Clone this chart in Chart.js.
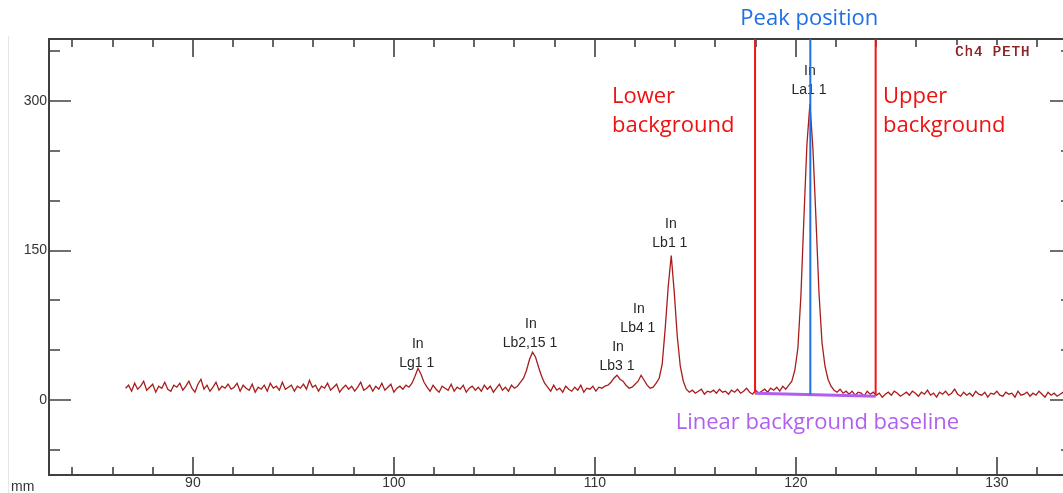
<!DOCTYPE html>
<html>
<head>
<meta charset="utf-8">
<title>Ch4 PETH</title>
<script src="https://cdn.jsdelivr.net/npm/chart.js@4.4.0/dist/chart.umd.min.js"></script>
<style>
  html, body { margin: 0; padding: 0; background: #fff; overflow: hidden; }
  #wrap { position: absolute; left: 0; top: 0; width: 1078px; height: 493px; }
</style>
</head>
<body>
<div id="wrap"><canvas id="spectrumChart" width="1078" height="493"></canvas></div>
<script>
// spectrometer position grid, mm
const startMm = 86.65;
const stepMm = 0.15;

// counts per step, 20 steps (3 mm) per row
const counts = [
  12, 15, 9, 17, 11, 14, 19, 10, 13, 16, 8, 14, 12, 18, 11, 9, 15, 13, 17, 10,
  14, 19, 12, 8, 16, 21, 11, 15, 9, 13, 18, 10, 14, 12, 16, 11, 13, 17, 9, 15,
  12, 10, 16, 8, 13, 11, 15, 9, 17, 12, 14, 10, 18, 11, 13, 15, 9, 14, 12, 16,
  11, 20, 13, 15, 9, 14, 12, 17, 10, 13, 16, 8, 12, 15, 11, 14, 9, 13, 18, 10,
  12, 15, 9, 14, 11, 17, 10, 13, 16, 8, 12, 14, 11, 15, 13, 17, 24, 32, 26, 18,
  13, 9, 15, 11, 8, 14, 12, 10, 16, 9, 13, 11, 15, 8, 12, 14, 10, 13, 9, 15,
  11, 14, 8, 12, 16, 10, 13, 9, 15, 12, 14, 18, 22, 30, 41, 48, 43, 33, 24, 17,
  13, 9, 15, 10, 12, 8, 14, 11, 9, 13, 10, 15, 8, 12, 11, 14, 9, 13, 12, 14,
  15, 18, 22, 25, 21, 19, 15, 12, 13, 16, 19, 25, 20, 15, 12, 13, 17, 22, 36, 72,
  114, 145, 108, 64, 34, 19, 11, 8, 10, 7, 9, 11, 6, 9, 8, 10, 7, 11, 8, 9,
  6, 10, 8, 11, 7, 9, 12, 8, 6, 10, 7, 9, 11, 8, 12, 10, 13, 9, 14, 11,
  15, 19, 30, 52, 104, 182, 256, 297, 252, 182, 108, 58, 34, 21, 14, 10, 8, 11, 7, 9,
  6, 9, 5, 8, 7, 4, 9, 6, 8, 5, 7, 3, 6, 8, 5, 9, 7, 4, 6, 8,
  5, 9, 7, 4, 8, 6, 10, 5, 7, 3, 8, 6, 9, 5, 7, 11, 6, 4, 8, 5,
  7, 4, 9, 6, 5, 8, 3, 7, 6, 9, 5, 4, 8, 6, 7, 3, 9, 5, 6, 8,
  4, 7, 5, 9, 6, 3, 8, 5, 7, 4, 6, 8, 3, 6, 5
];

// axis labels
const xLabels = [90, 100, 110, 120, 130];
const yLabels = [0, 150, 300];

// line identification labels
const peakNames = ['Lg1 1', 'Lb2,15 1', 'Lb3 1', 'Lb4 1', 'Lb1 1', 'La1 1'];
const peakLabelMm = [101.14, 106.77, 111.1, 112.14, 113.73, 120.65];
const peakLabelCounts = [37, 57, 34, 72, 157, 311];

// background window and peak marker (mm), linear background ends (counts)
const lowerBgMm = 117.97;
const upperBgMm = 123.97;
const peakPosMm = 120.72;
const bgCounts = [7, 4];

const points = counts.map((c, i) => ({ x: +(startMm + i * stepMm).toFixed(2), y: c }));

const isLabelX = v => xLabels.some(l => Math.abs(l - v) < 1e-6);
const isLabelY = v => yLabels.some(l => Math.abs(l - v) < 1e-6);

const overlay = {
  id: 'overlay',
  afterDraw(chart) {
    const { ctx, chartArea: a, scales: { x, y } } = chart;
    ctx.save();

    // window edge
    ctx.strokeStyle = '#e6e6e6';
    ctx.lineWidth = 1;
    ctx.beginPath();
    ctx.moveTo(8.5, 36); ctx.lineTo(8.5, 493);
    ctx.stroke();

    // frame
    ctx.strokeStyle = '#404040';
    ctx.lineWidth = 2;
    ctx.strokeRect(a.left, a.top, a.right - a.left, a.bottom - a.top);

    // inward ticks on all four sides
    ctx.lineWidth = 1.6;
    ctx.beginPath();
    x.ticks.forEach(t => {
      const px = Math.round(x.getPixelForValue(t.value));
      const len = isLabelX(t.value) ? 18 : 8;
      ctx.moveTo(px, a.bottom); ctx.lineTo(px, a.bottom - len);
      ctx.moveTo(px, a.top); ctx.lineTo(px, a.top + len);
    });
    y.ticks.forEach(t => {
      const py = Math.round(y.getPixelForValue(t.value));
      const len = isLabelY(t.value) ? 22 : 11;
      ctx.moveTo(a.left, py); ctx.lineTo(a.left + len, py);
      ctx.moveTo(a.right, py); ctx.lineTo(a.right - len, py);
    });
    ctx.stroke();

    // unit label
    ctx.fillStyle = '#333';
    ctx.font = '14px "Liberation Sans", Arial, sans-serif';
    ctx.textBaseline = 'middle';
    ctx.textAlign = 'left';
    ctx.fillText('mm', 11, 487);

    // channel caption
    ctx.fillStyle = '#fff';
    ctx.fillRect(950, 45, 86, 16);
    ctx.fillStyle = '#8e2424';
    ctx.font = '14px "Liberation Mono", "DejaVu Sans Mono", monospace';
    ctx.letterSpacing = '1px';
    ctx.fillText('Ch4 PETH', 955, 52);
    ctx.fillText('Ch4 PETH', 955.4, 52);
    ctx.letterSpacing = '0px';

    // peak identification labels
    ctx.fillStyle = '#262626';
    ctx.font = '14px "Liberation Sans", Arial, sans-serif';
    ctx.textAlign = 'center';
    peakNames.forEach((name, i) => {
      const px = x.getPixelForValue(peakLabelMm[i]);
      const py = y.getPixelForValue(peakLabelCounts[i]);
      ctx.fillText('In', px + 1, py - 19);
      ctx.fillText(name, px, py);
    });

    // background window
    const yTop = y.getPixelForValue(y.max);
    const xl = x.getPixelForValue(lowerBgMm);
    const xu = x.getPixelForValue(upperBgMm);
    const yl = y.getPixelForValue(bgCounts[0]);
    const yu = y.getPixelForValue(bgCounts[1]);
    ctx.strokeStyle = '#f01414';
    ctx.lineWidth = 2;
    ctx.beginPath();
    ctx.moveTo(xl, yTop); ctx.lineTo(xl, yl);
    ctx.moveTo(xu, yTop); ctx.lineTo(xu, yu);
    ctx.stroke();

    // linear background
    ctx.strokeStyle = '#b25ff0';
    ctx.lineWidth = 3;
    ctx.beginPath();
    ctx.moveTo(xl, yl); ctx.lineTo(xu, yu);
    ctx.stroke();

    // peak position marker
    const xp = x.getPixelForValue(peakPosMm);
    const bgAtPeak = bgCounts[0] + (bgCounts[1] - bgCounts[0]) * (peakPosMm - lowerBgMm) / (upperBgMm - lowerBgMm);
    ctx.strokeStyle = '#1f6fe5';
    ctx.lineWidth = 2;
    ctx.beginPath();
    ctx.moveTo(xp, yTop); ctx.lineTo(xp, y.getPixelForValue(bgAtPeak));
    ctx.stroke();

    // callouts
    ctx.font = '22px "Open Sans", "Noto Sans", sans-serif';
    ctx.textBaseline = 'alphabetic';
    ctx.textAlign = 'center';
    ctx.fillStyle = '#1f6fe5';
    ctx.fillText('Peak position', xp - 1, 25);
    ctx.fillStyle = '#b25ff0';
    ctx.fillText('Linear background baseline', (xl + xu) / 2 + 2, 429);
    ctx.textAlign = 'left';
    ctx.fillStyle = '#ee1111';
    ctx.fillText('Lower', 612, 103);
    ctx.fillText('background', 612, 132);
    ctx.fillText('Upper', 883, 103);
    ctx.fillText('background', 883, 132);

    ctx.restore();
  }
};

new Chart(document.getElementById('spectrumChart'), {
  type: 'line',
  data: {
    datasets: [{
      label: 'Ch4 PETH',
      data: points,
      borderColor: '#a81c1c',
      borderWidth: 1.3,
      pointRadius: 0,
      tension: 0,
      fill: false
    }]
  },
  options: {
    responsive: false,
    animation: false,
    events: [],
    layout: { padding: { top: 39, right: 6, left: 0, bottom: 0 } },
    plugins: {
      legend: { display: false },
      tooltip: { enabled: false }
    },
    scales: {
      x: {
        type: 'linear',
        min: 82.84,
        max: 133.74,
        border: { display: false },
        grid: { display: false, drawTicks: false },
        afterFit: s => { s.height = 18; },
        ticks: {
          stepSize: 2,
          includeBounds: false,
          autoSkip: false,
          maxRotation: 0,
          padding: 0,
          color: '#333',
          font: { family: '"Liberation Sans", Arial, sans-serif', size: 14 },
          callback: v => isLabelX(v) ? String(Math.round(v)) : ''
        }
      },
      y: {
        min: -75,
        max: 362,
        border: { display: false },
        grid: { display: false, drawTicks: false },
        afterFit: s => { s.width = 49; },
        ticks: {
          stepSize: 50,
          includeBounds: false,
          autoSkip: false,
          padding: 2,
          color: '#333',
          font: { family: '"Liberation Sans", Arial, sans-serif', size: 14 },
          callback: v => isLabelY(v) ? String(v) : ''
        }
      }
    }
  },
  plugins: [overlay]
});
</script>
</body>
</html>
